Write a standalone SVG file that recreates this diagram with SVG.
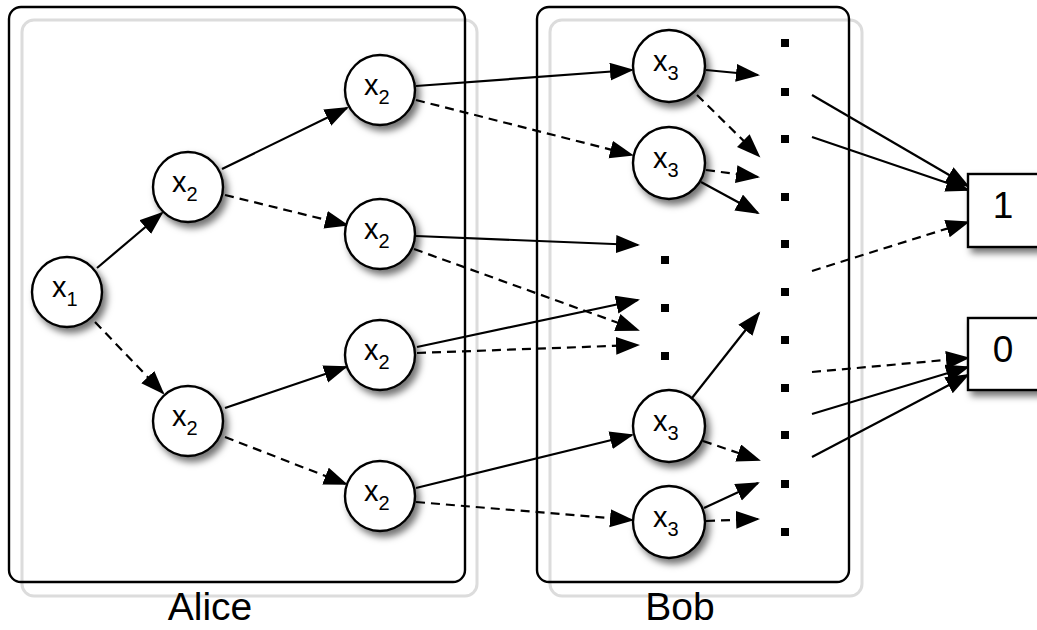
<svg xmlns="http://www.w3.org/2000/svg" width="1037" height="630" viewBox="0 0 1037 630">
<style>
.frame{fill:none;stroke:#000;stroke-width:2.4}
.ghost{fill:none;stroke:#dcdcdc;stroke-width:3}
.node{fill:#fff;stroke:#000;stroke-width:2.4;filter:url(#sh)}
.box{fill:#fff;stroke:#000;stroke-width:2.4;filter:url(#sh)}
.lbl{font-family:"Liberation Sans",Arial,sans-serif;font-size:29px;fill:#000}
.sub{font-size:20px}
.big{font-family:"Liberation Sans",Arial,sans-serif;font-size:39px;fill:#000;text-anchor:middle}
.val{font-family:"Liberation Sans",Arial,sans-serif;font-size:37px;fill:#000;text-anchor:middle}
.s{stroke:#000;stroke-width:2.2;fill:none;marker-end:url(#ah)}
.d{stroke:#000;stroke-width:2.2;fill:none;stroke-dasharray:9 6;marker-end:url(#ah)}
.dot{fill:#000}
</style>
<defs>
<filter id="sh" x="-30%" y="-30%" width="170%" height="170%">
<feDropShadow dx="4" dy="5" stdDeviation="3.5" flood-color="#000" flood-opacity="0.55"/>
</filter>
<marker id="ah" markerUnits="userSpaceOnUse" markerWidth="26" markerHeight="20" refX="22" refY="9" orient="auto">
<path d="M0,0 L24,9 L0,18 z" fill="#000"/>
</marker>
</defs>
<rect width="1037" height="630" fill="#fff"/>
<g id="alice">
<rect class="ghost" x="22" y="20" width="455" height="576" rx="12"/>
<rect class="frame" x="9" y="7" width="456" height="575" rx="12"/>
<text class="big" x="210" y="620">Alice</text>
</g>
<g id="bob">
<rect class="ghost" x="550" y="20" width="312" height="576" rx="12"/>
<rect class="frame" x="537" y="7" width="312" height="575" rx="12"/>
<text class="big" x="680" y="620">Bob</text>
</g>
<g id="connectors">
<line class="s" x1="97" y1="268" x2="162" y2="213"/>
<line class="d" x1="95" y1="322" x2="163" y2="393"/>
<line class="s" x1="222" y1="169" x2="347" y2="108"/>
<line class="d" x1="225" y1="195" x2="347" y2="225"/>
<line class="s" x1="225" y1="408" x2="346" y2="367"/>
<line class="d" x1="225" y1="437" x2="346" y2="484"/>
<line class="s" x1="416" y1="86" x2="632" y2="70"/>
<line class="d" x1="416" y1="100" x2="632" y2="155"/>
<line class="s" x1="416" y1="236" x2="638" y2="245"/>
<line class="d" x1="414" y1="249" x2="638" y2="330"/>
<line class="s" x1="417" y1="347" x2="638" y2="300"/>
<line class="d" x1="417" y1="353" x2="638" y2="345"/>
<line class="s" x1="416" y1="488" x2="632" y2="435"/>
<line class="d" x1="416" y1="502" x2="632" y2="520"/>
<line class="s" x1="706" y1="70" x2="758" y2="75"/>
<line class="d" x1="697" y1="95" x2="759" y2="156"/>
<line class="d" x1="706" y1="170" x2="758" y2="177"/>
<line class="s" x1="701" y1="182" x2="758" y2="213"/>
<line class="s" x1="692" y1="398" x2="759" y2="313"/>
<line class="d" x1="703" y1="441" x2="759" y2="460"/>
<line class="s" x1="704" y1="508" x2="758" y2="483"/>
<line class="d" x1="706" y1="521" x2="758" y2="519"/>
<line class="s" x1="812" y1="95" x2="968" y2="186"/>
<line class="s" x1="812" y1="137" x2="968" y2="190"/>
<line class="d" x1="812" y1="271" x2="968" y2="222"/>
<line class="d" x1="812" y1="372" x2="968" y2="358"/>
<line class="s" x1="812" y1="414" x2="968" y2="367"/>
<line class="s" x1="812" y1="457" x2="968" y2="375"/>
</g>
<g id="dots">
<rect class="dot" x="781" y="39" width="8" height="8"/>
<rect class="dot" x="781" y="88" width="8" height="8"/>
<rect class="dot" x="781" y="135" width="8" height="8"/>
<rect class="dot" x="781" y="193" width="8" height="8"/>
<rect class="dot" x="781" y="240" width="8" height="8"/>
<rect class="dot" x="781" y="288" width="8" height="8"/>
<rect class="dot" x="781" y="336" width="8" height="8"/>
<rect class="dot" x="781" y="384" width="8" height="8"/>
<rect class="dot" x="781" y="431" width="8" height="8"/>
<rect class="dot" x="781" y="480" width="8" height="8"/>
<rect class="dot" x="781" y="528" width="8" height="8"/>
<rect class="dot" x="661" y="256" width="8" height="8"/>
<rect class="dot" x="661" y="304" width="8" height="8"/>
<rect class="dot" x="661" y="352" width="8" height="8"/>
</g>
<g id="n_x1"><circle class="node" cx="67" cy="292" r="35"/><text class="lbl" x="52" y="297">x<tspan class="sub" dy="9">1</tspan></text></g>
<g id="n_x2_a"><circle class="node" cx="188" cy="187" r="35"/><text class="lbl" x="172" y="192">x<tspan class="sub" dy="9">2</tspan></text></g>
<g id="n_x2_b"><circle class="node" cx="188" cy="421" r="35"/><text class="lbl" x="172" y="426">x<tspan class="sub" dy="9">2</tspan></text></g>
<g id="n_x2_c"><circle class="node" cx="380" cy="90" r="35"/><text class="lbl" x="364" y="95">x<tspan class="sub" dy="9">2</tspan></text></g>
<g id="n_x2_d"><circle class="node" cx="380" cy="234" r="35"/><text class="lbl" x="364" y="239">x<tspan class="sub" dy="9">2</tspan></text></g>
<g id="n_x2_e"><circle class="node" cx="380" cy="355" r="35"/><text class="lbl" x="364" y="360">x<tspan class="sub" dy="9">2</tspan></text></g>
<g id="n_x2_f"><circle class="node" cx="380" cy="496" r="35"/><text class="lbl" x="364" y="501">x<tspan class="sub" dy="9">2</tspan></text></g>
<g id="n_x3_a"><circle class="node" cx="669" cy="66" r="36"/><text class="lbl" x="653" y="71">x<tspan class="sub" dy="9">3</tspan></text></g>
<g id="n_x3_b"><circle class="node" cx="669" cy="163" r="36"/><text class="lbl" x="653" y="168">x<tspan class="sub" dy="9">3</tspan></text></g>
<g id="n_x3_c"><circle class="node" cx="669" cy="426" r="36"/><text class="lbl" x="653" y="431">x<tspan class="sub" dy="9">3</tspan></text></g>
<g id="n_x3_d"><circle class="node" cx="669" cy="522" r="36"/><text class="lbl" x="653" y="527">x<tspan class="sub" dy="9">3</tspan></text></g>
<g id="n_one"><rect class="box" x="968" y="174" width="80" height="73"/><text class="val" x="1003" y="218">1</text></g>
<g id="n_zero"><rect class="box" x="968" y="318" width="80" height="72"/><text class="val" x="1003" y="362">0</text></g>
</svg>
